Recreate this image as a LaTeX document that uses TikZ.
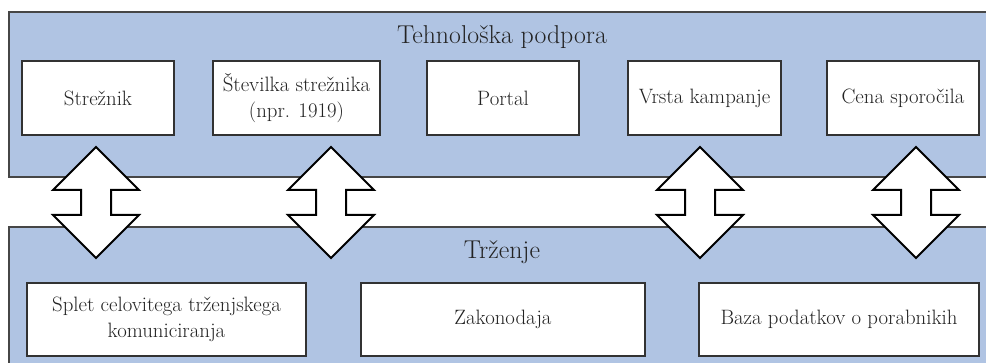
\documentclass[tikz,border=0pt]{standalone}
\usetikzlibrary{calc}
\definecolor{panelblue}{RGB}{176,196,227}
\definecolor{panelline}{RGB}{70,70,70}
\definecolor{boxline}{RGB}{50,50,50}
\definecolor{txt}{RGB}{35,35,35}
\tikzset{
  panel/.style={fill=panelblue, draw=panelline, line width=1.1pt},
  itembox/.style={draw=boxline, fill=white, line width=1.4pt, inner sep=0pt,
    align=center, text=txt, font=\fontsize{20.8}{26}\selectfont},
  paneltitle/.style={inner sep=0pt, text=txt, font=\fontsize{25.8}{30}\selectfont},
  blockarrow/.style={draw=black, fill=white, line width=2pt, line join=miter}
}
\begin{document}
\begin{tikzpicture}[x=1pt, y=-1pt]
\useasboundingbox (0,0) rectangle (986,363);
\clip (0,0) rectangle (986,363);

% the two layers
\draw[panel] (9,12) rectangle (995,177);
\draw[panel] (9,227) rectangle (995,375);

\node[paneltitle] (tech) at (502,37) {Tehnološka podpora};
\node[paneltitle] (mkt) at (502,252) {Trženje};

% upper layer items
\node[itembox, minimum width=152pt, minimum height=74pt] (srv) at (98,98) {Strežnik};
\node[itembox, minimum width=167pt, minimum height=74pt] (num) at (296.5,98) {Številka strežnika\\(npr. 1919)};
\node[itembox, minimum width=152pt, minimum height=74pt] (portal) at (503,98) {Portal};
\node[itembox, minimum width=153pt, minimum height=74pt] (camp) at (704.5,98) {Vrsta kampanje};
\node[itembox, minimum width=152pt, minimum height=74pt] (price) at (903,98) {Cena sporočila};

% lower layer items
\node[itembox, minimum width=279pt, minimum height=73pt] (mix) at (166.5,319.5) {Splet celovitega trženjskega\\komuniciranja};
\node[itembox, minimum width=284pt, minimum height=73pt] (law) at (503,319.5) {Zakonodaja};
\node[itembox, minimum width=280pt, minimum height=73pt] (db) at (839,319.5) {Baza podatkov o porabnikih};

% two-way block arrows between the layers
\foreach \cx in {96,331,700,916}{
  \draw[blockarrow]
    (\cx,147) -- (\cx+43,190) -- (\cx+15,190) -- (\cx+15,215) -- (\cx+43,215)
    -- (\cx,258) -- (\cx-43,215) -- (\cx-15,215) -- (\cx-15,190) -- (\cx-43,190) -- cycle;
}
\end{tikzpicture}
\end{document}
